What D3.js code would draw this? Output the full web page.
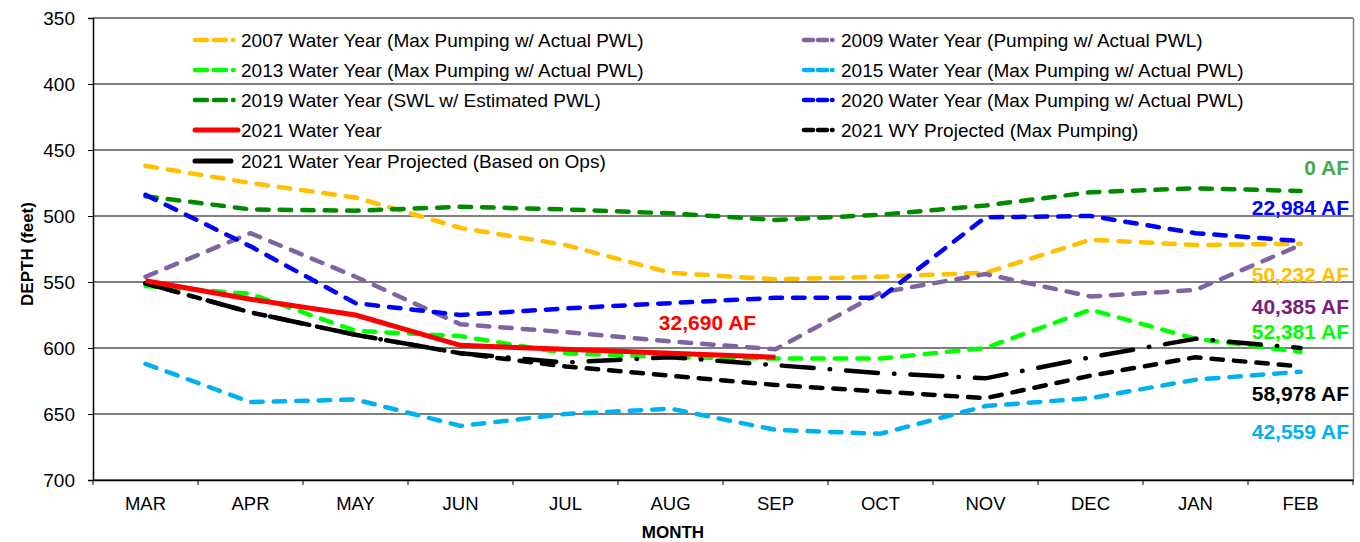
<!DOCTYPE html>
<html>
<head>
<title>Depth by Month</title>
<script src="https://cdnjs.cloudflare.com/ajax/libs/d3/7.8.5/d3.min.js"></script>
<style>
  body { margin: 0; background: #fff; }
  text { font-family: Arial, "Liberation Sans", sans-serif; }
</style>
</head>
<body>
<div id="g"></div>
<script>
// values (feet below ground)
var months = ["MAR", "APR", "MAY", "JUN", "JUL", "AUG", "SEP", "OCT", "NOV", "DEC", "JAN", "FEB"];
var yTicks = [350, 400, 450, 500, 550, 600, 650, 700];

var wy2007 = [462, 475, 486, 509, 522, 543, 548, 546, 543, 518, 522, 521];
var wy2009 = [546, 513, 546, 582, 588, 595, 601, 558, 544, 561, 556, 522];
var wy2013 = [553, 559, 587, 591, 604, 607, 608, 608, 600, 571, 593, 603];
var wy2015 = [612, 641, 639, 659, 650, 646, 662, 665, 644, 638, 624, 618];
var wy2019 = [485, 495, 496, 493, 495, 498, 503, 499, 492, 482, 479, 481];
var wy2020 = [484, 523, 566, 575, 570, 566, 562, 562, 501, 500, 513, 519];
var wy2021 = [549, 563, 575, 598, 601, 604, 607, null, null, null, null, null];
var wy2021Max = [551, 573, 590, 604, 614, 621, 628, 633, 638, 621, 607, 614];
var wy2021Ops = [551, 573, 590, 604, 611, 607, 613, 619, 623, 607, 593, 600];

var afLabels = [
  { t: "0 AF", c: "#44a94f", y: 167.5 },
  { t: "22,984 AF", c: "#0000ff", y: 207.5 },
  { t: "50,232 AF", c: "#ffc000", y: 274.5 },
  { t: "40,385 AF", c: "#7a1d7c", y: 306 },
  { t: "52,381 AF", c: "#00ff00", y: 331 },
  { t: "58,978 AF", c: "#000000", y: 393 },
  { t: "42,559 AF", c: "#00b0f0", y: 431 }
];

var series = [
  { name: "2007 Water Year (Max Pumping w/ Actual PWL)", v: wy2007, c: "#ffc000", kind: "dash" },
  { name: "2009 Water Year (Pumping w/ Actual PWL)", v: wy2009, c: "#8064a2", kind: "dash" },
  { name: "2013 Water Year (Max Pumping w/ Actual PWL)", v: wy2013, c: "#00ff00", kind: "dash" },
  { name: "2015 Water Year (Max Pumping w/ Actual PWL)", v: wy2015, c: "#00b0f0", kind: "dash" },
  { name: "2019 Water Year (SWL w/ Estimated PWL)", v: wy2019, c: "#008a00", kind: "dash" },
  { name: "2020 Water Year (Max Pumping w/ Actual PWL)", v: wy2020, c: "#0000ff", kind: "dash" },
  { name: "2021 Water Year", v: wy2021, c: "#ff0000", kind: "solid" },
  { name: "2021 WY Projected (Max Pumping)", v: wy2021Max, c: "#000000", kind: "dash" },
  { name: "2021 Water Year Projected (Based on Ops)", v: wy2021Ops, c: "#000000", kind: "dashdot" }
];

var W = 1360, H = 542;
var pL = 93, pR = 1353, pT = 18, pB = 480;

var svg = d3.select("#g").append("svg")
  .attr("width", W)
  .attr("height", H);

var x = d3.scaleBand().domain(months).range([pL, pR]).padding(0);
var y = d3.scaleLinear().domain([350, 700]).range([pT, pB]);
var cx = function (m) { return x(m) + x.bandwidth() / 2; };

// gridlines
svg.append("g").selectAll("line")
  .data(yTicks)
  .enter().append("line")
  .attr("x1", pL).attr("x2", pR)
  .attr("y1", function (d) { return y(d); })
  .attr("y2", function (d) { return y(d); })
  .attr("stroke", "#000")
  .attr("stroke-width", 1);

// right border
svg.append("line")
  .attr("x1", pR + 0.5).attr("x2", pR + 0.5)
  .attr("y1", pT).attr("y2", pB)
  .attr("stroke", "#808080").attr("stroke-width", 1.5);

// axes
var yAxis = d3.axisLeft(y).tickValues(yTicks).tickSize(5).tickPadding(13);
var gy = svg.append("g")
  .attr("transform", "translate(" + pL + ",0)")
  .call(yAxis);
gy.selectAll("text").attr("font-size", "19px").attr("font-family", "Arial, 'Liberation Sans', sans-serif").attr("fill", "#000");
gy.select(".domain").attr("stroke", "#000").attr("stroke-width", 1.5);

var xAxis = d3.axisBottom(x).tickSize(0).tickPadding(17);
var gx = svg.append("g")
  .attr("transform", "translate(0," + pB + ")")
  .call(xAxis);
gx.selectAll("text").attr("font-size", "18.5px").attr("font-family", "Arial, 'Liberation Sans', sans-serif").attr("fill", "#000");
gx.select(".domain").attr("stroke", "#000").attr("stroke-width", 1.5);
// tick marks between the months
gx.selectAll(".sep")
  .data(months.concat(["end"]))
  .enter().append("line")
  .attr("class", "sep")
  .attr("x1", function (d, i) { return pL + i * x.bandwidth(); })
  .attr("x2", function (d, i) { return pL + i * x.bandwidth(); })
  .attr("y1", 0).attr("y2", 5)
  .attr("stroke", "#000");

// axis titles
svg.append("text")
  .attr("x", 673).attr("y", 538)
  .attr("text-anchor", "middle")
  .attr("font-size", "17px").attr("font-weight", "bold")
  .text("MONTH");

svg.append("text")
  .attr("transform", "translate(33,254) rotate(-90)")
  .attr("text-anchor", "middle")
  .attr("font-size", "17px").attr("font-weight", "bold")
  .text("DEPTH (feet)");

function dashFor(kind) {
  if (kind == "dash") return "11.5,11";
  if (kind == "dashdot") return "32,16,0.5,16";
  return null;
}

var line = d3.line()
  .defined(function (d) { return d.v != null; })
  .x(function (d) { return cx(d.m); })
  .y(function (d) { return y(d.v); });

// draw order: everything, red on top
var order = [0, 1, 2, 3, 4, 5, 7, 8, 6];
order.forEach(function (k) {
  var s = series[k];
  var pts = months.map(function (m, i) { return { m: m, v: s.v[i] }; });
  svg.append("path")
    .datum(pts)
    .attr("d", line)
    .attr("fill", "none")
    .attr("stroke", s.c)
    .attr("stroke-width", s.kind == "solid" ? 5 : 4.5)
    .attr("stroke-linecap", s.kind == "solid" ? "butt" : "round")
    .attr("stroke-dasharray", dashFor(s.kind));
});

// legend (two columns)
var legPos = [
  [193, 40], [802, 40],
  [193, 70], [802, 70],
  [193, 100], [802, 100],
  [193, 130], [802, 130],
  [193, 161]
];
var leg = svg.append("g");
series.forEach(function (s, i) {
  var p = legPos[i];
  var x0 = p[0], yy = p[1];
  if (s.kind == "dash") {
    var w = (x0 < 500) ? 45 : 36;
    leg.append("line")
      .attr("x1", x0 + 2).attr("x2", x0 + w - 2)
      .attr("y1", yy).attr("y2", yy)
      .attr("stroke", s.c).attr("stroke-width", 4.5)
      .attr("stroke-linecap", "round")
      .attr("stroke-dasharray", (x0 < 500 ? "12,7,12,7,0.5,20" : "9,5,9,5,0.5,20"));
  } else {
    leg.append("line")
      .attr("x1", x0 + 2).attr("x2", s.kind == "solid" ? x0 + 45 : x0 + 38)
      .attr("y1", yy).attr("y2", yy)
      .attr("stroke", s.c).attr("stroke-width", 5)
      .attr("stroke-linecap", "round");
  }
  leg.append("text")
    .attr("x", x0 < 500 ? 241 : 841)
    .attr("y", yy + 7)
    .attr("font-size", "19px")
    .attr("fill", "#000")
    .text(s.name);
});

// AF totals on the right
svg.append("g").selectAll("text")
  .data(afLabels)
  .enter().append("text")
  .attr("x", 1349)
  .attr("y", function (d) { return d.y + 7.5; })
  .attr("text-anchor", "end")
  .attr("font-size", "21px").attr("font-weight", "bold")
  .attr("fill", function (d) { return d.c; })
  .text(function (d) { return d.t; });

svg.append("text")
  .attr("x", 707.5).attr("y", 330)
  .attr("text-anchor", "middle")
  .attr("font-size", "21px").attr("font-weight", "bold")
  .attr("fill", "#ff0000")
  .text("32,690 AF");
</script>
</body>
</html>
